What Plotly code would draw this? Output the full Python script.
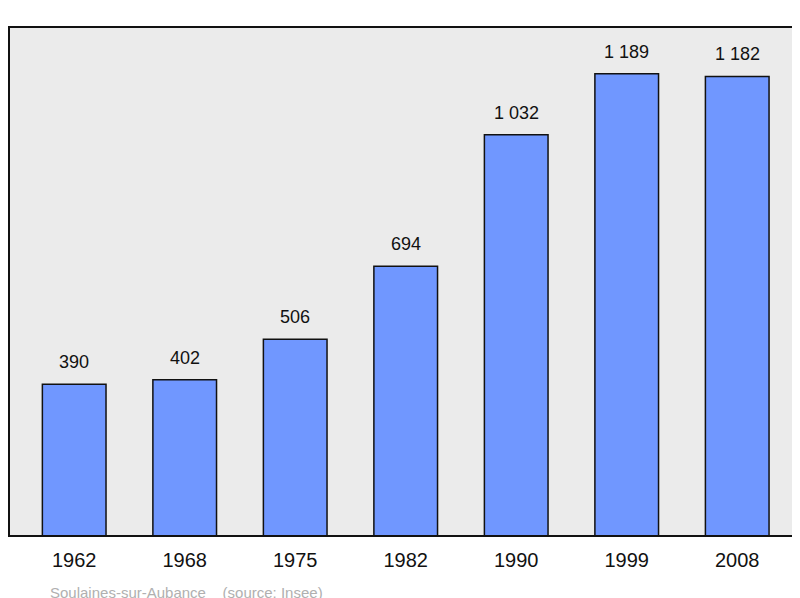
import plotly.graph_objects as go

years = ["1962", "1968", "1975", "1982", "1990", "1999", "2008"]
population = [390, 402, 506, 694, 1032, 1189, 1182]
labels = ["390", "402", "506", "694", "1 032", "1 189", "1 182"]

xs = list(range(len(years)))
fig = go.Figure(go.Bar(
    x=xs, y=population, width=0.576,
    marker=dict(color="#7097ff", line=dict(color="#111", width=1.5)),
    hoverinfo="skip"))
ann = [dict(x=x, y=v, text=t, showarrow=False, yshift=22, yanchor="middle",
            font=dict(size=18, color="#111")) for x, v, t in zip(xs, population, labels)]
ann.append(dict(text="Soulaines-sur-Aubance    (source: Insee)", xref="paper", yref="paper",
                x=0.05, y=0, yshift=-56, xanchor="left", yanchor="middle", showarrow=False,
                font=dict(size=15, color="#b0b0b0")))
fig.update_layout(
    width=792, height=590, margin=dict(l=1, r=2, t=19, b=62),
    paper_bgcolor="white", plot_bgcolor="#ebebeb", showlegend=False,
    font=dict(family="Liberation Sans", color="#111"),
    xaxis=dict(range=[-0.59, 6.55], tickvals=xs, ticktext=years, showgrid=False, zeroline=False,
               ticks="outside", ticklen=6, tickcolor="rgba(0,0,0,0)", tickfont=dict(size=20)),
    yaxis=dict(range=[0, 1309], showgrid=False, zeroline=False, showticklabels=False),
    shapes=[dict(type="rect", xref="paper", yref="paper", x0=0, x1=1, y0=0, y1=1,
                 line=dict(color="#111", width=2))],
    annotations=ann)
fig.write_html("out.html")
